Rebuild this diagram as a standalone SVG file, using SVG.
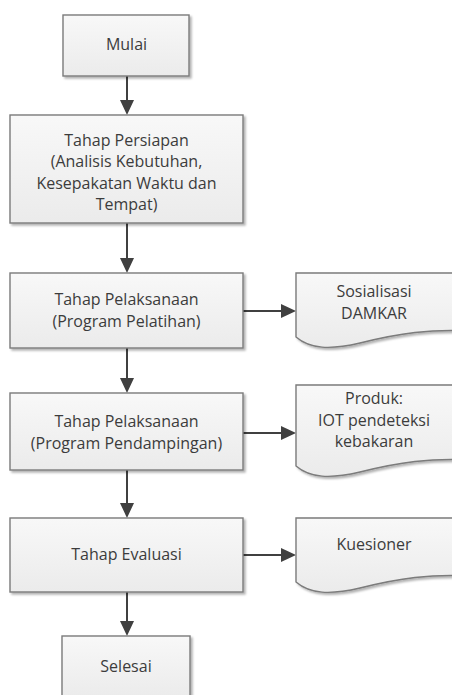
<svg xmlns="http://www.w3.org/2000/svg" width="452" height="695" viewBox="0 0 452 695">
  <defs>
    <linearGradient id="g" x1="0" y1="0" x2="0" y2="1">
      <stop offset="0" stop-color="#f8f8f8"/>
      <stop offset="1" stop-color="#ebebeb"/>
    </linearGradient>
    <filter id="sh" x="-10%" y="-10%" width="130%" height="130%">
      <feDropShadow dx="2" dy="2" stdDeviation="1.2" flood-color="#000" flood-opacity="0.3"/>
    </filter>
    <marker id="ah" markerUnits="userSpaceOnUse" markerWidth="15" markerHeight="15" refX="0" refY="7" orient="auto">
      <path d="M0,0 L15,7 L0,14 z" fill="#404040"/>
    </marker>
  </defs>
  <style>
    .box { fill: url(#g); stroke: #7b7b7b; stroke-width: 1.4; filter: url(#sh); }
    .t { font-family: "Open Sans", "Liberation Sans", sans-serif; font-size: 16px; fill: #3c3c3c; text-anchor: middle; }
    .c { stroke: #404040; stroke-width: 2; fill: none; marker-end: url(#ah); }
  </style>

  <g id="connectors">
    <line class="c" x1="127" y1="76" x2="127" y2="100"/>
    <line class="c" x1="127" y1="223" x2="127" y2="258"/>
    <line class="c" x1="127" y1="348" x2="127" y2="378"/>
    <line class="c" x1="127" y1="470" x2="127" y2="503"/>
    <line class="c" x1="127" y1="592" x2="127" y2="621"/>
    <line class="c" x1="243" y1="311" x2="281" y2="311"/>
    <line class="c" x1="243" y1="433" x2="281" y2="433"/>
    <line class="c" x1="243" y1="555" x2="281" y2="555"/>
  </g>

  <g id="mulai">
    <rect class="box" x="63" y="15" width="126" height="61"/>
    <text class="t" x="126.5" y="50">Mulai</text>
  </g>

  <g id="persiapan">
    <rect class="box" x="10" y="115" width="233" height="108"/>
    <text class="t" x="126.5" y="145.5">Tahap Persiapan</text>
    <text class="t" x="126.5" y="167">(Analisis Kebutuhan,</text>
    <text class="t" x="126.5" y="188.5">Kesepakatan Waktu dan</text>
    <text class="t" x="126.5" y="210">Tempat)</text>
  </g>

  <g id="pelatihan">
    <rect class="box" x="10" y="273" width="233" height="75"/>
    <text class="t" x="126.5" y="305">Tahap Pelaksanaan</text>
    <text class="t" x="126.5" y="326.5">(Program Pelatihan)</text>
  </g>

  <g id="pendampingan">
    <rect class="box" x="10" y="393" width="233" height="77"/>
    <text class="t" x="126.5" y="427">Tahap Pelaksanaan</text>
    <text class="t" x="126.5" y="448.5">(Program Pendampingan)</text>
  </g>

  <g id="evaluasi">
    <rect class="box" x="10" y="518" width="233" height="74"/>
    <text class="t" x="126.5" y="559.5">Tahap Evaluasi</text>
  </g>

  <g id="selesai">
    <rect class="box" x="62" y="636" width="128" height="62"/>
    <text class="t" x="126" y="671.5">Selesai</text>
  </g>

  <g id="sosialisasi">
    <path class="box" d="M296,273 H470 V331 C430,329 400,333 360,343 C330,350 310,349 296,337 Z"/>
    <text class="t" x="374" y="297">Sosialisasi</text>
    <text class="t" x="374" y="318.5">DAMKAR</text>
  </g>

  <g id="produk">
    <path class="box" d="M296,385 H470 V460 C430,458 400,462 360,472 C330,479 310,478 296,466 Z"/>
    <text class="t" x="374" y="404">Produk:</text>
    <text class="t" x="374" y="425.5">IOT pendeteksi</text>
    <text class="t" x="374" y="447">kebakaran</text>
  </g>

  <g id="kuesioner">
    <path class="box" d="M296,518 H470 V576 C430,574 400,578 360,588 C330,595 310,594 296,582 Z"/>
    <text class="t" x="374" y="549.5">Kuesioner</text>
  </g>
</svg>
